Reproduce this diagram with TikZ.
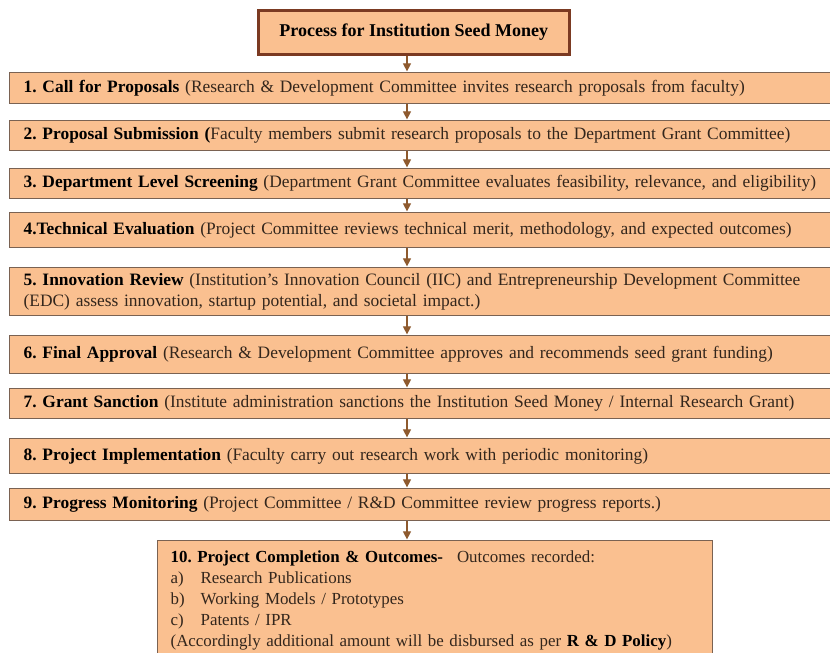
\documentclass[tikz,border=0pt]{standalone}
\usepackage{fontspec}
\setmainfont{Liberation Serif}
\usetikzlibrary{arrows.meta}
\definecolor{boxfill}{HTML}{FAC090}
\definecolor{boxline}{HTML}{7A6252}
\definecolor{titleline}{HTML}{7B3A22}
\definecolor{arrowc}{HTML}{8E5A2E}
\definecolor{txt}{HTML}{33261C}
\frenchspacing
\begin{document}
\begin{tikzpicture}[x=1pt,y=-1pt,
  stepbox/.style={draw=boxline, line width=1.3pt, fill=boxfill, anchor=north west,
    text width=815pt, inner xsep=14pt, align=left, text=txt,
    font=\fontsize{17.4}{21.5}\selectfont},
  titlebox/.style={draw=titleline, line width=2.6pt, fill=boxfill, anchor=north west,
    minimum width=311pt, minimum height=44pt, text=black,
    font=\fontsize{18}{20}\selectfont\bfseries},
  endbox/.style={draw=boxline, line width=1.3pt, fill=boxfill, anchor=north west,
    text width=529pt, inner xsep=13pt, inner ysep=3pt, minimum height=119pt,
    align=left, text=txt, font=\fontsize{16.9}{21}\selectfont},
  arr/.style={draw=arrowc, line width=1.1pt, -{Triangle[width=8pt,length=8pt]}, shorten >=0.6pt}
]
\useasboundingbox (0,0) rectangle (830,653);
\fill[white] (0,0) rectangle (830,653);
\clip (0,0) rectangle (830,653);
\coordinate (ax) at (407,0);

\node[titlebox] (t) at (257,9) {Process for Institution Seed Money};

\node[stepbox, minimum height=31pt] (b1) at (9,72) {\textcolor{black}{\bfseries 1. Call for Proposals} (Research \& Development Committee invites research proposals from faculty)};
\node[stepbox, minimum height=30pt] (b2) at (9,120) {\textcolor{black}{\bfseries 2. Proposal Submission (}Faculty members submit research proposals to the Department Grant Committee)};
\node[stepbox, minimum height=30pt] (b3) at (9,168) {\textcolor{black}{\bfseries 3. Department Level Screening} (Department Grant Committee evaluates feasibility, relevance, and eligibility)};
\node[stepbox, minimum height=35pt] (b4) at (9,212) {\textcolor{black}{\bfseries 4.Technical Evaluation} (Project Committee reviews technical merit, methodology, and expected outcomes)};
\node[stepbox, minimum height=48pt] (b5) at (9,267) {\textcolor{black}{\bfseries 5. Innovation Review} (Institution’s Innovation Council (IIC) and Entrepreneurship Development Committee\\(EDC) assess innovation, startup potential, and societal impact.)};
\node[stepbox, minimum height=38pt] (b6) at (9,335) {\textcolor{black}{\bfseries 6. Final Approval} (Research \& Development Committee approves and recommends seed grant funding)};
\node[stepbox, minimum height=30pt] (b7) at (9,388) {\textcolor{black}{\bfseries 7. Grant Sanction} (Institute administration sanctions the Institution Seed Money / Internal Research Grant)};
\node[stepbox, minimum height=35pt] (b8) at (9,438) {\textcolor{black}{\bfseries 8. Project Implementation} (Faculty carry out research work with periodic monitoring)};
\node[stepbox, minimum height=32pt] (b9) at (9,488) {\textcolor{black}{\bfseries 9. Progress Monitoring} (Project Committee / R\&D Committee review progress reports.)};
\node[endbox] (b10) at (157,540) {\textcolor{black}{\bfseries 10. Project Completion \& Outcomes-}\hspace{14pt}Outcomes recorded:\\
\makebox[30pt][l]{a)}Research Publications\\
\makebox[30pt][l]{b)}Working Models / Prototypes\\
\makebox[30pt][l]{c)}Patents / IPR\\
(Accordingly additional amount will be disbursed as per \textcolor{black}{\bfseries R \& D Policy})};

\draw[arr] (t.south -| ax) -- (b1.north -| ax);
\draw[arr] (b1.south -| ax) -- (b2.north -| ax);
\draw[arr] (b2.south -| ax) -- (b3.north -| ax);
\draw[arr] (b3.south -| ax) -- (b4.north -| ax);
\draw[arr] (b4.south -| ax) -- (b5.north -| ax);
\draw[arr] (b5.south -| ax) -- (b6.north -| ax);
\draw[arr] (b6.south -| ax) -- (b7.north -| ax);
\draw[arr] (b7.south -| ax) -- (b8.north -| ax);
\draw[arr] (b8.south -| ax) -- (b9.north -| ax);
\draw[arr] (b9.south -| ax) -- (b10.north -| ax);
\end{tikzpicture}
\end{document}
